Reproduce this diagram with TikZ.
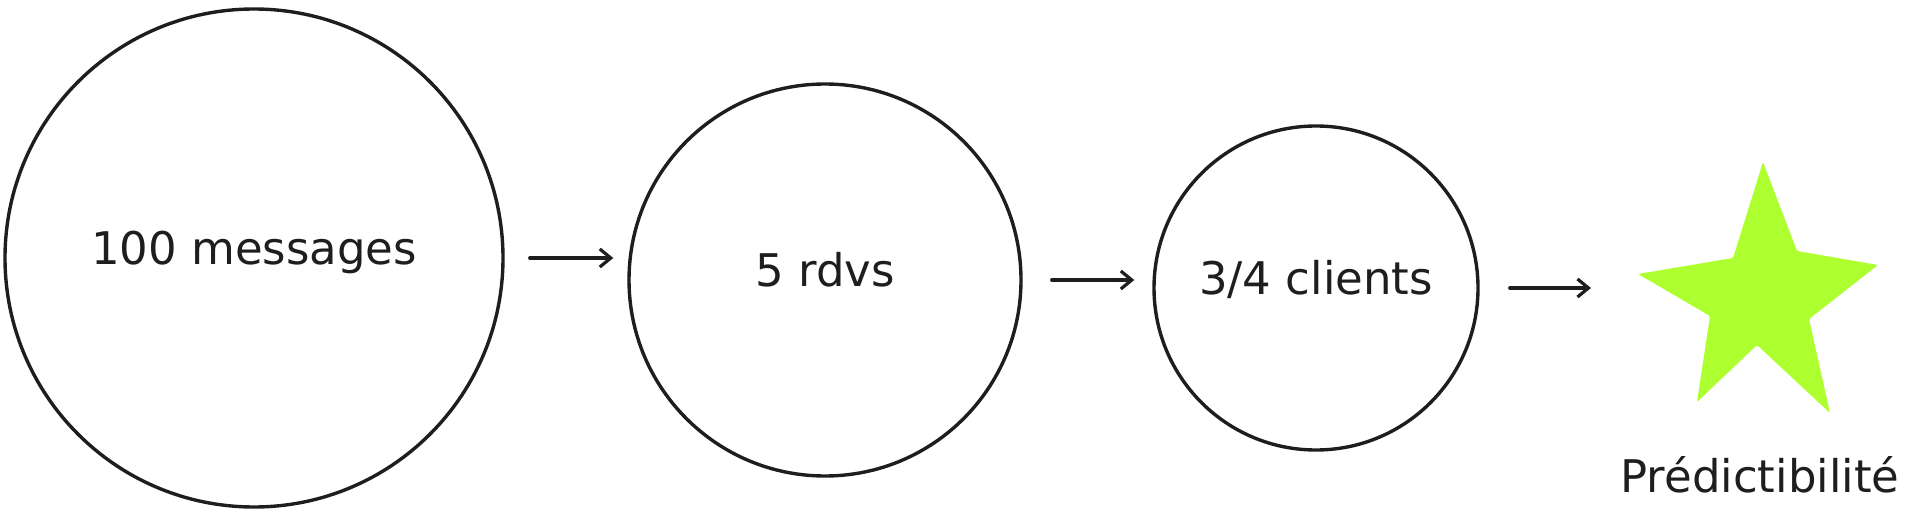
\documentclass[tikz,border=0pt]{standalone}
\usepackage{fontspec}
\setmainfont{DejaVu Sans}
\usetikzlibrary{arrows.meta}
\definecolor{ink}{HTML}{1E1E1E}
\definecolor{lime}{HTML}{ADFF2F}

\begin{document}
\begin{tikzpicture}[
    x=1pt, y=-1pt,
    color=ink,
    line width=3.4pt,
    bulle/.style={draw, circle, inner sep=0pt, text height=34pt, text depth=22pt, font=\fontsize{45}{54}\selectfont},
    lien/.style={-{Straight Barb[length=11pt,width=18pt,line width=3.2pt]}, line width=3.2pt, line cap=round},
    etiquette/.style={anchor=base, font=\fontsize{45}{54}\selectfont}
]
  \useasboundingbox (0,0) rectangle (1920,516);

  % Bulles
  \node[bulle, minimum size=498pt] (msg) at (254,258) {100 messages};
  \node[bulle, minimum size=392pt] (rdv) at (825,280) {5 rdvs};
  \node[bulle, minimum size=324pt] (cli) at (1316,288) {3/4 clients};

  % Etoile
  \fill[lime, rounded corners=1.5pt] (1763,162) -- (1797,251) -- (1878,265) -- (1809,319) -- (1830,413)
    -- (1757,345) -- (1697,402) -- (1710,316) -- (1638,274) -- (1733,258) -- cycle;
  \coordinate (pointe) at (1638,274);
  \node[etiquette] (pred) at (1760,492) {Prédictibilité};

  % Fleches
  \draw[lien, shorten <=25pt, shorten >=14pt] (msg.east) -- (rdv.west |- msg.east);
  \draw[lien, shorten <=29pt, shorten >=18pt] (rdv.east) -- (cli.west |- rdv.east);
  \draw[lien, shorten <=30pt, shorten >=47pt] (cli.east) -- (cli.east -| pointe);

\end{tikzpicture}
\end{document}
